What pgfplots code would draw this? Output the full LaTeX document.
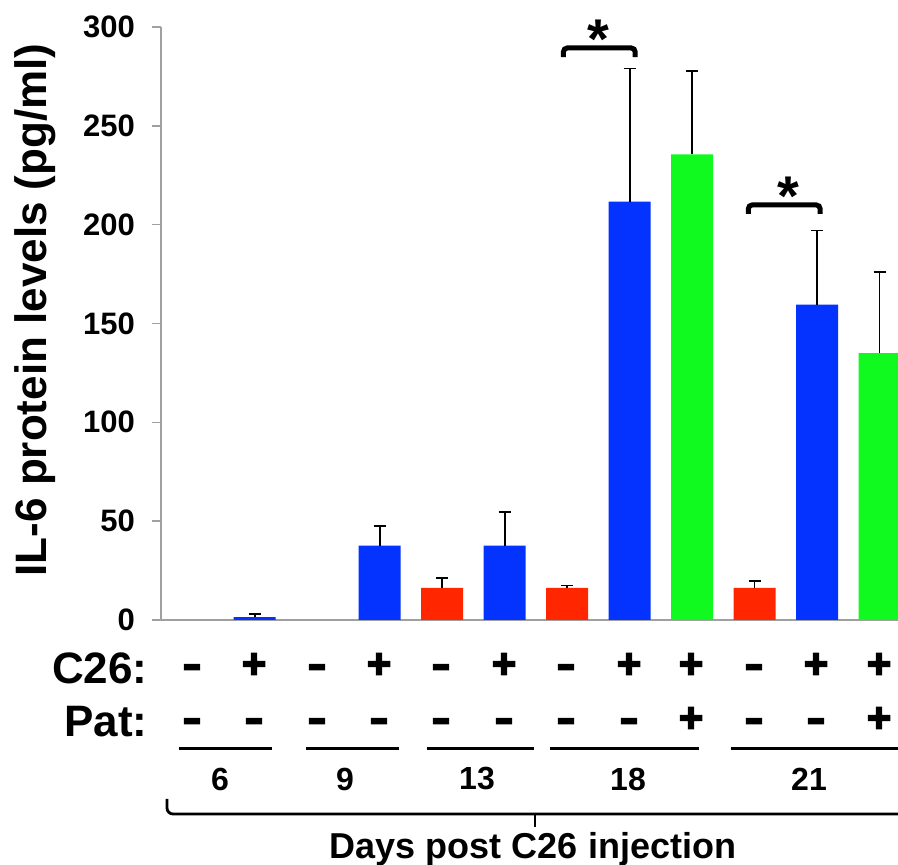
\documentclass[border=0pt]{standalone}
\usepackage{pgfplots}
\pgfplotsset{compat=1.18}
\usepackage{fontspec}
\setmainfont{Liberation Sans}
\newfontfamily\signfont[FakeBold=3.5]{Liberation Sans Bold}
\definecolor{barred}{RGB}{255,38,0}
\definecolor{barblue}{RGB}{4,51,255}
\definecolor{bargreen}{RGB}{16,250,32}
\definecolor{axisgray}{RGB}{160,160,160}
\newcommand{\mn}{\scalebox{1.35}[1]{-}}
\begin{document}
\begin{tikzpicture}
  % one picture pixel = 0.5pt; axis box placed at pixel (161,620)
  \begin{axis}[
      at={(80.5pt,122.5pt)}, anchor=south west,
      scale only axis, width=368.5pt, height=296.5pt,
      xmin=-0.5, xmax=11.296, ymin=0, ymax=300,
      axis x line=bottom, axis y line=left,
      axis line style={axisgray, line width=1.3pt, -},
      xtick=\empty,
      ytick={0,50,...,300},
      tick align=outside, major tick length=4.5pt,
      y tick style={axisgray, line width=0.7pt},
      /pgf/number format/assume math mode=true,
      yticklabel style={font=\bfseries\fontsize{15.5}{15.5}\selectfont, xshift=-5pt},
      ylabel={IL-6 protein levels (pg/ml)},
      ylabel style={at={(axis description cs:-0.171,0.523)}, rotate=0, anchor=center,
        font=\bfseries\fontsize{22}{22}\selectfont},
      clip=false,
      every axis plot/.append style={ybar, bar width=21pt, draw=none,
        error bars/y dir=plus, error bars/y explicit,
        error bars/error bar style={black, line width=0.9pt},
        error bars/error mark options={black, line width=0.9pt, mark size=3pt, rotate=90}},
    ]
    % control (C26 -)
    \addplot[fill=barred] coordinates {
      (4,16.2) +- (0,4.9)
      (6,16.2) +- (0,1.3)
      (9,16.2) +- (0,3.5)
    };
    % C26 +, Pat -
    \addplot[fill=barblue] coordinates {
      (1,1.5) +- (0,1.5)
      (3,37.6) +- (0,10.1)
      (5,37.6) +- (0,16.9)
      (7,211.6) +- (0,67.4)
      (10,159.5) +- (0,37.5)
    };
    % C26 +, Pat +
    \addplot[fill=bargreen] coordinates {
      (8,235.5) +- (0,42.3)
      (11,135) +- (0,41)
    };
    % significance brackets
    \draw[line width=2.5pt, rounded corners=2pt] (axis cs:5.94,284.8) -- (axis cs:5.94,289.4) -- (axis cs:7.09,289.4) -- (axis cs:7.09,284.8);
    \node[font=\bfseries\fontsize{28}{28}\selectfont] at (axis cs:6.5,294) {*};
    \draw[line width=2.5pt, rounded corners=2pt] (axis cs:8.9,205.5) -- (axis cs:8.9,210) -- (axis cs:10.05,210) -- (axis cs:10.05,205.5);
    \node[font=\bfseries\fontsize{28}{28}\selectfont] at (axis cs:9.54,214.5) {*};
  \end{axis}
  \pgfresetboundingbox
  \useasboundingbox (0,0) rectangle (449pt,432.5pt);
  \clip (0,0) rectangle (449pt,432.5pt);
  \begin{scope}[shift={(0pt,432.5pt)}, x=0.5pt, y=-0.5pt,
      every node/.style={font=\bfseries\fontsize{22}{22}\selectfont, inner sep=0pt}]
    \node[anchor=east] at (148,668) {C26:};
    \node[anchor=east] at (148,722) {Pat:};
    % treatment rows: C26 and patupilone (signs share one baseline per row)
    \foreach \xx/\cs/\ps in {192/\mn/\mn,254/+/\mn,317/\mn/\mn,379/+/\mn,441/\mn/\mn,504/+/\mn,
                              566/\mn/\mn,629/+/\mn,691/+/+,754/\mn/\mn,816/+/\mn,879/+/+} {
      \node[anchor=base, font=\signfont\fontsize{21}{21}\selectfont] at (\xx,678) {\cs};
      \node[anchor=base, font=\signfont\fontsize{21}{21}\selectfont] at (\xx,732) {\ps};
    }
    \foreach \a/\b in {179/272,306/399,427/534,550/699,731/898}
      \draw[line width=1.5pt] (\a,749) -- (\b,749);
    \foreach \xx/\d in {220/6,345/9,477/13,628/18,809/21}
      \node[font=\bfseries\fontsize{16}{16}\selectfont] at (\xx,779) {\d};
    \draw[line width=1.4pt, rounded corners=3pt] (167,799) -- (167,814) -- (900,814);
    \draw[line width=1.4pt] (535,814) -- (535,827);
    \node[font=\bfseries\fontsize{18}{18}\selectfont] at (533,849) {Days post C26 injection};
  \end{scope}
\end{tikzpicture}
\end{document}
